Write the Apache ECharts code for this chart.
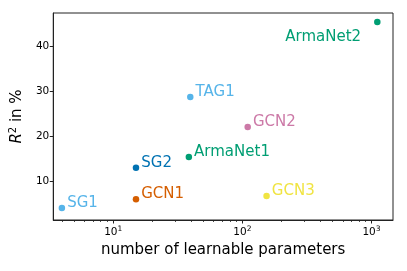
<!DOCTYPE html>
<html>
<head>
<meta charset="utf-8">
<script src="https://cdn.jsdelivr.net/npm/echarts@6/dist/echarts.min.js"></script>
<style>html,body{margin:0;padding:0;background:#fff}#c{width:407px;height:271px}</style>
</head>
<body>
<div id="c"></div>
<script>
const models = ['SG1', 'GCN1', 'SG2', 'TAG1', 'ArmaNet1', 'GCN2', 'GCN3', 'ArmaNet2'];
const params = [4, 15, 15, 39.5, 38.5, 110, 154, 1110];
const r2 = [4.0, 6.0, 13.0, 28.8, 15.4, 22.1, 6.7, 45.5];
const xMajorTicks = [10, 100, 1000];
const xMinorTicks = [4, 5, 6, 7, 8, 9, 20, 30, 40, 50, 60, 70, 80, 90, 200, 300, 400, 500, 600, 700, 800, 900];
const yTicks = [10, 20, 30, 40];

const colorOf = {
  SG1: '#56B4E9', TAG1: '#56B4E9', SG2: '#0072B2', GCN1: '#D55E00',
  ArmaNet1: '#009E73', ArmaNet2: '#009E73', GCN2: '#CC79A7', GCN3: '#F0E442'
};
const FONT = 'DejaVu Sans';
const xMin = 3.43, xMax = 1468, yMin = 1.35, yMax = 47.5;

const data = models.map((m, i) => {
  const item = {
    value: [params[i], r2[i]], name: m,
    itemStyle: { color: colorOf[m], opacity: 1 },
    label: { color: colorOf[m] }
  };
  if (m === 'ArmaNet2') {
    item.label = { color: colorOf[m], position: 'left', distance: 13, offset: [0, 15] };
  }
  return item;
});

const chart = echarts.init(document.getElementById('c'), null, { renderer: 'canvas' });
chart.setOption({
  animation: false,
  backgroundColor: '#fff',
  grid: { left: 52, top: 13, right: 14, bottom: 51, show: true, borderColor: '#222', borderWidth: 1, backgroundColor: 'transparent' },
  xAxis: [{
    type: 'log', logBase: 10, min: xMin, max: xMax,
    name: 'number of learnable parameters', nameLocation: 'middle', nameGap: 23,
    nameTextStyle: { fontFamily: FONT, fontSize: 15, color: '#000' },
    axisLine: { show: true, onZero: false, lineStyle: { color: '#222', width: 1 } },
    axisTick: { show: true, length: 3.5, lineStyle: { color: '#222' }, customValues: xMajorTicks },
    axisLabel: {
      customValues: xMajorTicks, margin: 5,
      fontFamily: FONT, fontSize: 10.5, color: '#000',
      formatter: v => '{b|10}{s|' + Math.round(Math.log10(v)) + '}',
      rich: { b: { fontFamily: FONT, fontSize: 10.5, color: '#000' }, s: { fontFamily: FONT, fontSize: 7.5, color: '#000', verticalAlign: 'bottom', padding: [0, 0, 6, 0] } }
    },
    splitLine: { show: false }
  }, {
    type: 'log', logBase: 10, min: xMin, max: xMax, position: 'bottom',
    axisLine: { show: false },
    axisTick: { show: true, length: 2, lineStyle: { color: '#222', width: 0.8 }, customValues: xMinorTicks },
    axisLabel: { show: false },
    splitLine: { show: false }
  }],
  yAxis: {
    type: 'value', min: yMin, max: yMax,
    name: '{i|R}{s|2}{n| in %}', nameLocation: 'middle', nameGap: 20, nameRotate: 90,
    nameTextStyle: {
      fontFamily: FONT, fontSize: 15, color: '#000',
      rich: {
        i: { fontFamily: FONT, fontStyle: 'italic', fontSize: 15, color: '#000' },
        s: { fontFamily: FONT, fontSize: 10, color: '#000', verticalAlign: 'bottom', padding: [0, 0, 9, 0] },
        n: { fontFamily: FONT, fontSize: 15, color: '#000' }
      }
    },
    axisLine: { show: true, onZero: false, lineStyle: { color: '#222', width: 1 } },
    axisTick: { show: true, length: 3.5, lineStyle: { color: '#222' }, customValues: yTicks },
    axisLabel: { customValues: yTicks, margin: 4, fontFamily: FONT, fontSize: 10.5, color: '#000' },
    splitLine: { show: false }
  },
  series: [{
    type: 'scatter', xAxisIndex: 0, symbol: 'circle', symbolSize: 6.5,
    data: data,
    label: {
      show: true, position: 'right', distance: 2, offset: [0, -5],
      formatter: p => p.name, fontFamily: FONT, fontSize: 15
    }
  }]
});
</script>
</body>
</html>
